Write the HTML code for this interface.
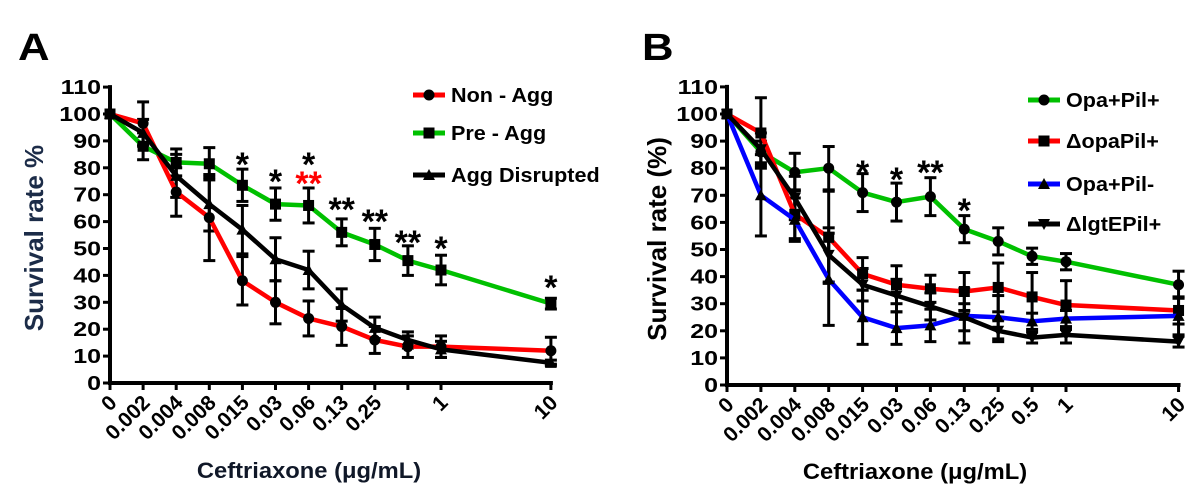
<!DOCTYPE html>
<html><head><meta charset="utf-8"><style>
body{margin:0;background:#fff;}
svg{display:block;font-family:"Liberation Sans",Arial,sans-serif;font-weight:bold;}
</style></head><body>
<svg id="chart" width="1200" height="501" viewBox="0 0 1200 501"></svg>
<script>
const catLabelsA = ["0","0.002","0.004","0.008","0.015","0.03","0.06","0.13","0.25","","1","10"];
const catLabelsB = ["0","0.002","0.004","0.008","0.015","0.03","0.06","0.13","0.25","0.5","1","10"];
const catIndex = [0,1,2,3,4,5,6,7,8,9,10,13.32];
const yTicks = [0,10,20,30,40,50,60,70,80,90,100,110];
const nonAgg = [100,96.5,71,61.5,38,30,24,21,16,13.5,13.5,12];
const nonAggErr = [0,8,9,16,9,8,6.5,7,5,4,4,5];
const preAgg = [100,88,82,81.5,73.5,66.5,66,56,51.5,45.5,42,29.5];
const preAggErr = [0,5,5,6,6,6,6.5,5,6,5.5,5.5,2];
const aggDis = [100,93,77,66.5,57,46,42,29,20.5,16,12.5,7.5];
const aggDisErr = [0,5,8,10,9,8,7,6,4,3,3,1];
const opaPil = [100,86,78.5,80,71,67.5,69.5,57.5,53,47.5,45.5,37];
const opaPilErr = [0,4,7,8,7,7,7,5,5,3,3,5];
const dOpa = [100,93,63,54.5,41,37,35.5,34.5,36,32.5,29.5,27.5];
const dOpaErr = [0,13,9,17,6,7,5,7,9,9,9,5];
const opaPilMinus = [100,70,61,39,25,21,22,25.5,25,23.5,24.5,25.5];
const opaPilMinusErr = [0,15,8,17,10,6,6,10,8,3,3,7];
const dLgt = [100,87,69,48,37,33,29,25,20,17.5,18.5,16];
const dLgtErr = [0,6,8,10,6,6,5,5,4,2,3,2];
const sigA = [[4,"*","#000",157],[5,"*","#000",174],[6,"*","#000",157],[6,"**","#f00",176],[7,"**","#000",202],[8,"**","#000",214],[9,"**","#000",235],[10,"*","#000",241],[11,"*","#000",280]];
const sigB = [[4,"*","#000",165],[5,"*","#000",172],[6,"**","#000",165],[7,"*","#000",203]];

const svg = document.getElementById('chart');
const NS = "http://www.w3.org/2000/svg";
function mk(tag, attrs, parent, name){
  const e = document.createElementNS(NS, tag);
  for (const k in attrs) e.setAttribute(k, attrs[k]);
  
  
  (parent||svg).appendChild(e);
  return e;
}
function marker(g, type, x, y, name){
  if (type==='circle') mk('circle',{cx:x,cy:y,r:5.5,fill:'#000'},g,name);
  else if (type==='square') mk('rect',{x:x-5.5,y:y-5.5,width:11,height:11,fill:'#000'},g,name);
  else if (type==='tri') mk('polygon',{points:`${x},${y-6} ${x-6},${y+5} ${x+6},${y+5}`,fill:'#000'},g,name);
  else mk('polygon',{points:`${x},${y+6} ${x-6},${y-5} ${x+6},${y-5}`,fill:'#000'},g,name);
}
function panel(o){
  const X = i => o.x0 + catIndex[i]*o.dx;
  const Y = v => o.y0 - v*o.ky;
  const g = mk('g',{},svg,o.name);
  const L = mk('text',{x:0,y:0,'font-size':38,transform:`translate(${o.letterX},60) scale(1.15,1)`},g,'panel-letter'); L.textContent=o.letter;
  mk('line',{x1:o.x0,y1:Y(110)-2,x2:o.x0,y2:o.y0+2,stroke:'#000','stroke-width':4},g,'y-axis');
  yTicks.forEach(t=>{
    mk('line',{x1:o.x0-7,y1:Y(t),x2:o.x0,y2:Y(t),stroke:'#000','stroke-width':3},g,'y-tick');
    const tt = mk('text',{x:0,y:0,'font-size':20,'text-anchor':'end',transform:`translate(${o.x0-9},${Y(t)+7}) scale(1.25,1)`},g,'y-tick-label'); tt.textContent=t;
  });
  mk('line',{x1:o.x0-2,y1:o.y0,x2:X(11)+2,y2:o.y0,stroke:'#000','stroke-width':4},g,'x-axis');
  o.labels.forEach((lab,i)=>{
    mk('line',{x1:X(i),y1:o.y0,x2:X(i),y2:o.y0+7,stroke:'#000','stroke-width':3},g,'x-tick');
    if(lab){const tt=mk('text',{x:X(i)+8,y:o.y0+21,'font-size':21,'text-anchor':'end',transform:`rotate(-45 ${X(i)+8} ${o.y0+21})`},g,'x-tick-label'); tt.textContent=lab;}
  });
  const yt = mk('text',{x:0,y:0,'font-size':26,'text-anchor':'middle',fill:o.ytColor,transform:`translate(${o.ytX},${Y(55)+3}) rotate(-90)`},g,'y-axis-title'); yt.textContent=o.ytitle;
  const xt = mk('text',{x:0,y:0,'font-size':22,'text-anchor':'middle',fill:o.xtColor,transform:`translate(${o.xtX},${o.xtY}) scale(1.08,1)`},g,'x-axis-title'); xt.textContent='Ceftriaxone (μg/mL)';
  o.series.forEach(s=>{
    const sg = mk('g',{},g,s.name+'-series');
    s.err.forEach((e,i)=>{ if(e>0){
      const x=X(i);
      mk('line',{x1:x,y1:Y(s.vals[i]+e),x2:x,y2:Y(s.vals[i]-e),stroke:'#000','stroke-width':3},sg,'error-bar');
      mk('line',{x1:x-6,y1:Y(s.vals[i]+e),x2:x+6,y2:Y(s.vals[i]+e),stroke:'#000','stroke-width':3},sg,'error-cap');
      mk('line',{x1:x-6,y1:Y(s.vals[i]-e),x2:x+6,y2:Y(s.vals[i]-e),stroke:'#000','stroke-width':3},sg,'error-cap');
    }});
  });
  o.series.forEach(s=>{
    const sg = mk('g',{},g,s.name+'-line');
    mk('polyline',{points:s.vals.map((v,i)=>X(i)+','+Y(v)).join(' '),fill:'none',stroke:s.color,'stroke-width':4.5,'stroke-linejoin':'round'},sg,s.name+'-line');
    s.vals.forEach((v,i)=>marker(sg,s.marker,X(i),Y(v),s.name+'-point'));
  });
  o.sig.forEach(a=>{
    const t=mk('text',{x:X(a[0]),y:a[3]+19,'font-size':34,'text-anchor':'middle',fill:a[2]},g,'significance-mark'); t.textContent=a[1];
  });
  o.series.forEach((s,k)=>{
    const lg = mk('g',{},g,'legend-entry');
    const ly = o.legY[k];
    mk('line',{x1:o.legX,y1:ly,x2:o.legX+32,y2:ly,stroke:s.color,'stroke-width':5},lg,'legend-swatch');
    marker(lg,s.marker,o.legX+16,ly,'legend-marker');
    const t=mk('text',{x:0,y:0,'font-size':20,transform:`translate(${o.legX+38},${ly+7}) scale(1.08,1)`},lg,'legend-label'); t.textContent=s.label;
  });
}
panel({name:'panel-a',letter:'A',letterX:18,x0:110,dx:33.1,y0:383,ky:2.69,labels:catLabelsA,
  ytitle:'Survival rate %',ytColor:'#1c2c48',ytX:43,xtX:309,xtY:478,xtColor:'#101828',
  sig:sigA,legX:413,legY:[95,133,175],
  series:[
    {name:'non-agg',label:'Non - Agg',vals:nonAgg,err:nonAggErr,color:'#ff0000',marker:'circle'},
    {name:'pre-agg',label:'Pre - Agg',vals:preAgg,err:preAggErr,color:'#00c000',marker:'square'},
    {name:'agg-disrupted',label:'Agg Disrupted',vals:aggDis,err:aggDisErr,color:'#000',marker:'tri'}]});
panel({name:'panel-b',letter:'B',letterX:642,x0:727,dx:33.9,y0:385,ky:2.71,labels:catLabelsB,
  ytitle:'Survival rate (%)',ytColor:'#000',ytX:666,xtX:915,xtY:479,xtColor:'#000',
  sig:sigB,legX:1028,legY:[100,141,184,224],
  series:[
    {name:'opa-pil-plus',label:'Opa+Pil+',vals:opaPil,err:opaPilErr,color:'#00c000',marker:'circle'},
    {name:'delta-opa-pil',label:'ΔopaPil+',vals:dOpa,err:dOpaErr,color:'#ff0000',marker:'square'},
    {name:'opa-pil-minus',label:'Opa+Pil-',vals:opaPilMinus,err:opaPilMinusErr,color:'#0000ff',marker:'tri'},
    {name:'delta-lgte-pil',label:'ΔlgtEPil+',vals:dLgt,err:dLgtErr,color:'#000',marker:'invtri'}]});
</script>
</body></html>
